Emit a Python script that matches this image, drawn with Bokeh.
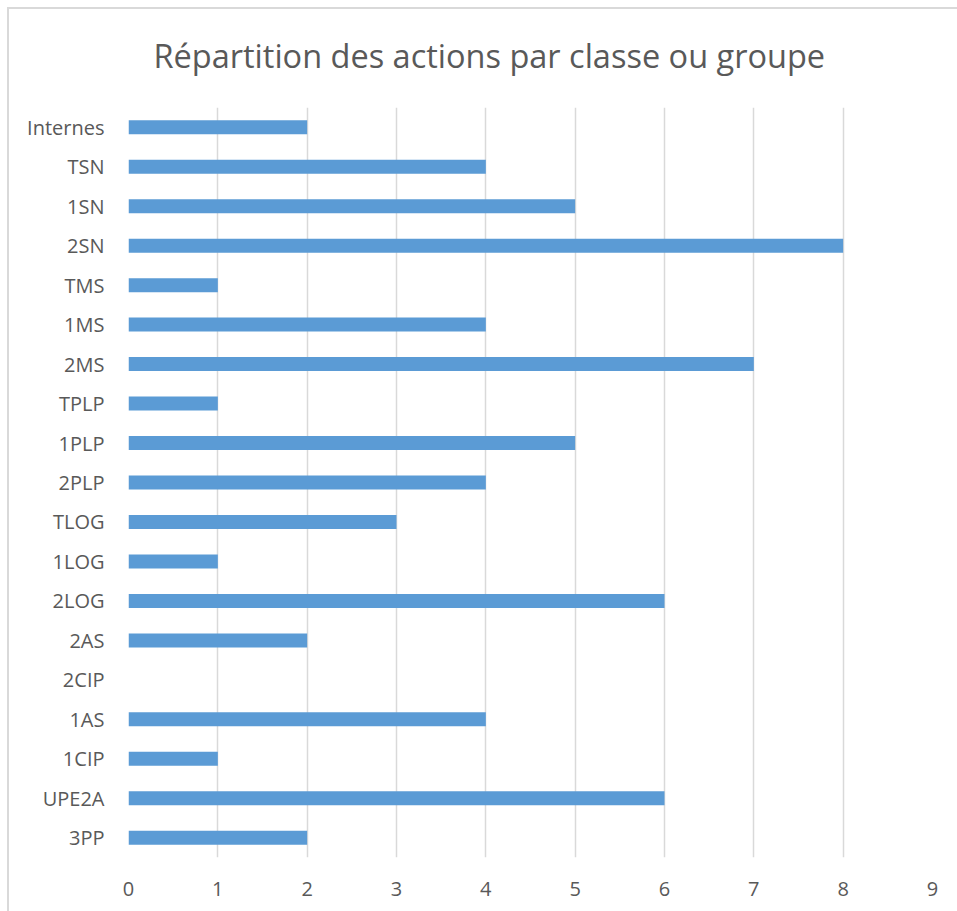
from bokeh.plotting import figure
from bokeh.models import FixedTicker
from bokeh.embed import file_html
from bokeh.resources import INLINE

categories = ["3PP", "UPE2A", "1CIP", "1AS", "2CIP", "2AS", "2LOG", "1LOG", "TLOG",
              "2PLP", "1PLP", "TPLP", "2MS", "1MS", "TMS", "2SN", "1SN", "TSN", "Internes"]
values = [2, 6, 1, 4, 0, 2, 6, 1, 3, 4, 5, 1, 7, 4, 1, 8, 5, 4, 2]
x_ticks = [0, 1, 2, 3, 4, 5, 6, 7, 8, 9]
title_text = "Répartition des actions par classe ou groupe"

FONT = "Open Sans"
GREY = "#595959"

p = figure(width=957, height=911, y_range=categories, x_range=(0, 9),
           output_backend="svg", toolbar_location=None, title=title_text,
           min_border_left=128, min_border_right=25, min_border_top=107, min_border_bottom=54)
p.y_range.range_padding = 0

p.hbar(y=categories, right=values, left=0, height=0.355, fill_color="#5B9BD5", line_color=None)

p.title.align = "left"
p.title.offset = 25
p.title.vertical_align = "top"
p.title.standoff = 56
p.title.text_font = FONT
p.title.text_font_size = "32.5px"
p.title.text_font_style = "normal"
p.title.text_color = GREY

p.outline_line_color = None
p.background_fill_color = "white"
p.border_fill_color = None
p.styles = {
    "background-color": "white",
    "background-image": "linear-gradient(#D9D9D9, #D9D9D9), linear-gradient(#D9D9D9, #D9D9D9)",
    "background-size": "950px 2px, 2px 904px",
    "background-position": "7px 7px, 7px 7px",
    "background-repeat": "no-repeat",
}

p.xgrid.grid_line_color = "#D9D9D9"
p.xgrid.grid_line_width = 1.5
p.ygrid.grid_line_color = None
p.xaxis.ticker = FixedTicker(ticks=x_ticks)

for ax in (p.xaxis[0], p.yaxis[0]):
    ax.axis_line_color = None
    ax.major_tick_line_color = None
    ax.minor_tick_line_color = None
    ax.major_label_text_font = FONT
    ax.major_label_text_color = GREY
    ax.major_label_text_font_size = "20px"
p.xaxis.major_label_standoff = 18
p.yaxis.major_label_standoff = 18

open("out.html", "w").write(file_html(p, INLINE))
